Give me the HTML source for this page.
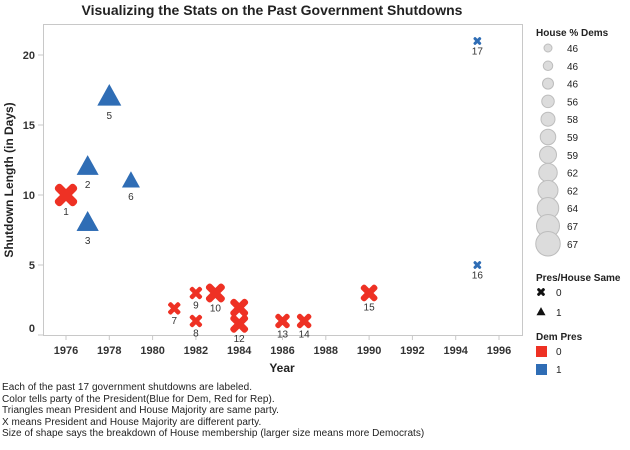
<!DOCTYPE html>
<html><head><meta charset="utf-8"><style>
body{margin:0;background:#fff;font-family:"Liberation Sans",Arial,sans-serif;}
svg{display:block}
.foot{position:absolute;left:2px;font-size:10px;letter-spacing:0.05px;color:#222;white-space:nowrap}
</style></head><body>
<div style="position:relative;width:630px;height:450px;overflow:hidden">
<svg id="chart" width="630" height="450">
<text x="272" y="15" text-anchor="middle" font-size="14" font-weight="bold" fill="#222">Visualizing the Stats on the Past Government Shutdowns</text>
<rect x="43.5" y="24.5" width="479" height="311" fill="none" stroke="#c8c8c8"/>
<text transform="translate(13,180) rotate(-90)" text-anchor="middle" font-size="12" font-weight="bold" fill="#222">Shutdown Length (in Days)</text>
<text x="282" y="372" text-anchor="middle" font-size="12" font-weight="bold" fill="#222">Year</text>
<g id="axes"></g><g id="marks"></g><g id="legend"></g>
</svg>
<div class="foot" style="top:382px">Each of the past 17 government shutdowns are labeled.</div>
<div class="foot" style="top:393.5px">Color tells party of the President(Blue for Dem, Red for Rep).</div>
<div class="foot" style="top:405px">Triangles mean President and House Majority are same party.</div>
<div class="foot" style="top:416.5px">X means President and House Majority are different party.</div>
<div class="foot" style="top:428px">Size of shape says the breakdown of House membership (larger size means more Democrats)</div>
</div>
<script>
const ids=[1,2,3,4,5,6,7,8,9,10,11,12,13,14,15,16,17];
const years=[1976,1977,1977,1977,1978,1979,1981,1982,1982,1982.9,1984,1984,1986,1987,1990,1995,1995];
const days=[10,12,8,8,17,11,1.9,1,3,3,1.95,0.8,1,1,3,5,21];
const same=[0,1,1,1,1,1,0,0,0,0,0,0,0,0,0,0,0];
const demPres=[0,1,1,1,1,1,0,0,0,0,0,0,0,0,0,1,1];
const sizes=[20,22,22,22,24,18,11,11,11,17,16,16,13,13,15,7,7];
const showLabel=[1,1,1,0,1,1,1,1,1,1,0,1,1,1,1,1,1];
const xTicks=[1976,1978,1980,1982,1984,1986,1988,1990,1992,1994,1996];
const yTicks=[0,5,10,15,20];
const legendVals=["46","46","46","56","58","59","59","62","62","64","67","67"];
const NS="http://www.w3.org/2000/svg";
const X=v=>66+(v-1976)*21.65, Y=v=>335-v*14;
function mk(t,a,p){const e=document.createElementNS(NS,t);for(const k in a)e.setAttribute(k,a[k]);p.appendChild(e);return e;}
const ax=document.getElementById('axes'),mg=document.getElementById('marks'),lg=document.getElementById('legend');
xTicks.forEach(t=>{
 const l=mk('line',{x1:X(t),x2:X(t),y1:335,y2:340,stroke:'#c8c8c8'},ax);
 
 
 const tx=mk('text',{x:X(t),y:354,'text-anchor':'middle','font-size':11,'font-weight':'bold',fill:'#333'},ax);tx.textContent=t;
 
 
});
yTicks.forEach(t=>{
 const l=mk('line',{x1:38,x2:43,y1:Y(t),y2:Y(t),stroke:'#c8c8c8'},ax);
 
 
 const tx=mk('text',{x:35,y:Math.min(Y(t),328)+4,'text-anchor':'end','font-size':11,'font-weight':'bold',fill:'#333'},ax);tx.textContent=t;
 
 
});
function cross(cx,cy,s,col,p){
 const w=s*0.42,L=s*0.68;
 const g=mk('g',{transform:`translate(${cx},${cy}) rotate(45)`,fill:col},p);
 mk('rect',{x:-w/2,y:-L,width:w,height:L*2,rx:w/2.5},g);
 mk('rect',{x:-L,y:-w/2,width:L*2,height:w,rx:w/2.5},g);
 return g;
}
function tri(cx,cy,s,col,p){
 const h=s*0.9;
 return mk('polygon',{points:`${cx},${cy-h*0.6} ${cx+s/2},${cy+h*0.4} ${cx-s/2},${cy+h*0.4}`,fill:col},p);
}
ids.forEach((id,i)=>{
 const cx=X(years[i]),cy=Y(days[i]),col=demPres[i]?'#2f6db5':'#ee3124';
 const m=same[i]?tri(cx,cy,sizes[i],col,mg):cross(cx,cy,sizes[i],col,mg);
 
 
 if(showLabel[i]){
  const t=mk('text',{x:cx,y:cy+sizes[i]/2+10,'text-anchor':'middle','font-size':10,fill:'#333'},mg);t.textContent=id;
  
  
 }
});
function txt(x,y,s,bold,name){const t=mk('text',{x:x,y:y,'font-size':10,'font-weight':bold?'bold':'normal',fill:'#222'},lg);t.textContent=s;return t;}
txt(536,36,'House % Dems',1,'size-legend-title');
legendVals.forEach((v,i)=>{
 const y=48+i*17.8,r=4+i*0.75;
 const c=mk('circle',{cx:548,cy:y,r:r,fill:'#dcdcdc',stroke:'#bdbdbd'},lg);
 
 
 txt(567,y+4,v,0,'size-legend-label');
});
txt(536,281,'Pres/House Same',1,'shape-legend-title');
cross(541,292,7,'#111',lg);
tri(541,312,9,'#111',lg);
txt(556,296,'0',0,'shape-legend-label');
txt(556,316,'1',0,'shape-legend-label');
txt(536,340,'Dem Pres',1,'color-legend-title');
const r1=mk('rect',{x:536,y:346,width:11,height:11,fill:'#ee3124'},lg);


const r2=mk('rect',{x:536,y:364,width:11,height:11,fill:'#2f6db5'},lg);


txt(556,355,'0',0,'color-legend-label');
txt(556,373,'1',0,'color-legend-label');
</script>
</body></html>
